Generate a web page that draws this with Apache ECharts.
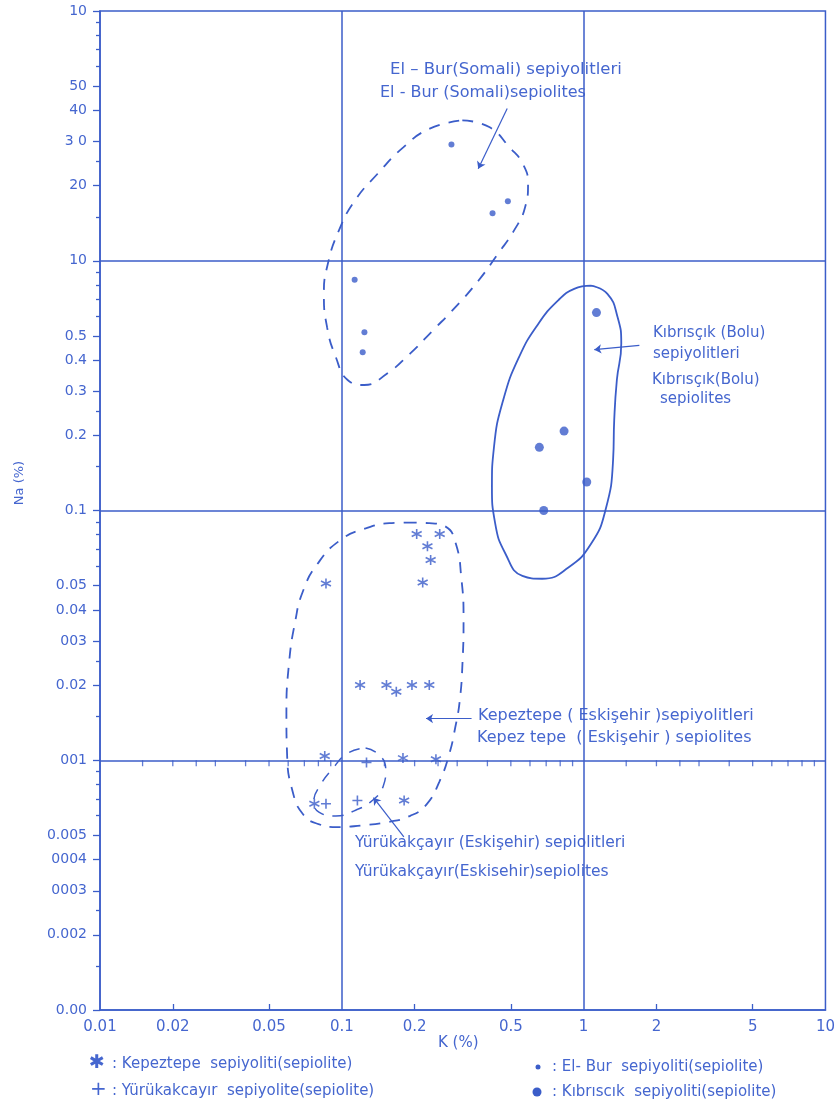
<!DOCTYPE html>
<html><head><meta charset="utf-8">
<script src="https://cdn.jsdelivr.net/npm/echarts@6/dist/echarts.min.js"></script>
<style>html,body{margin:0;padding:0;background:#fff}#c{width:838px;height:1110px}</style>
</head><body><div id="c"></div>
<script>
// ---- axis ticks / labels ----
const xTickValues = [0.01,0.02,0.05,0.1,0.2,0.5,1,2,5,10];
const xTickLabels = ['0.01','0.02','0.05','0.1','0.2','0.5','1','2','5','10'];
const xInnerTicks = [0.02,0.05,0.2,0.5,2,5];
const yTickValues = [10,5,4,3,2,1,0.5,0.4,0.3,0.2,0.1,0.05,0.04,0.03,0.02,0.01,0.005,0.004,0.003,0.002,0.001];
const yTickLabels = ['10','50','40','3 0','20','10','0.5','0.4','0.3','0.2','0.1','0.05','0.04','003','0.02','001','0.005','0004','0003','0.002','0.00'];
const yMinorTicks = [9,8,7,6,2.5,1.5, 0.9,0.8,0.7,0.6,0.25,0.15, 0.09,0.08,0.07,0.06,0.025,0.015, 0.009,0.008,0.007,0.006,0.0025,0.0015];
const k001LineTicks = [0.015,0.02,0.025,0.03,0.04,0.05,0.06,0.07,0.08,0.09, 0.15,0.2,0.25,0.3,0.4,0.5,0.6,0.7,0.8,0.9, 1.5,2,2.5,3,4,5,6,7,8,9];
const gridK = [0.1, 1];
const gridNa = [1, 0.1, 0.01];

// ---- data (K %, Na %) ----
const kepeztepeK  = [0.204,0.254,0.226,0.233,0.216,0.086,0.119,0.153,0.168,0.195,0.23,0.085,0.179,0.245,0.077,0.181];
const kepeztepeNa = [0.0805,0.0805,0.0719,0.0634,0.0515,0.051,0.02,0.02,0.0188,0.02,0.02,0.0104,0.0102,0.0101,0.0067,0.0069];
const yurukK  = [0.1265,0.086,0.116];
const yurukNa = [0.0098,0.0067,0.0069];
const elBurK  = [0.284,0.486,0.42,0.113,0.124,0.122];
const elBurNa = [2.92,1.73,1.55,0.84,0.517,0.43];
const kibrisK  = [1.13,0.83,0.656,1.03,0.684];
const kibrisNa = [0.62,0.208,0.179,0.13,0.1];

// ---- group envelopes [K, Na] ----
const elBurOutline = [[0.315,3.65],[0.407,3.43],[0.493,2.85],[0.56,2.445],[0.589,2.03],[0.573,1.64],[0.515,1.32],[0.4415,1.064],[0.367,0.832],[0.295,0.652],[0.238,0.526],[0.1915,0.425],[0.154,0.354],[0.1238,0.318],[0.1057,0.333],[0.0944,0.412],[0.0869,0.542],[0.0843,0.737],[0.0875,0.97],[0.0972,1.32],[0.1132,1.74],[0.1406,2.23],[0.18,2.85],[0.231,3.38]];
const kibrisOutline = [[1.069,0.795],[1.254,0.737],[1.382,0.594],[1.431,0.466],[1.372,0.333],[1.338,0.23],[1.324,0.16],[1.233,0.101],[1.075,0.0737],[0.865,0.0591],[0.674,0.0533],[0.558,0.0547],[0.475,0.0671],[0.4305,0.089],[0.4176,0.125],[0.426,0.18],[0.465,0.277],[0.541,0.412],[0.65,0.56],[0.783,0.693],[0.914,0.772]];
const kepezOutline = [[0.184,0.0895],[0.2295,0.089],[0.2687,0.0862],[0.296,0.0737],[0.312,0.0538],[0.3187,0.0369],[0.3155,0.0245],[0.3074,0.01734],[0.2943,0.01349],[0.2773,0.01048],[0.2533,0.00822],[0.2242,0.00666],[0.1918,0.00599],[0.1541,0.00565],[0.1199,0.00548],[0.0962,0.0054],[0.0796,0.00556],[0.069,0.00609],[0.0626,0.0075],[0.0594,0.01048],[0.059,0.0153],[0.0605,0.0245],[0.0641,0.0358],[0.069,0.0474],[0.0792,0.061],[0.0984,0.076],[0.1264,0.085],[0.1573,0.089]];
const yurukOutline = [[0.1254,0.01119],[0.1432,0.01048],[0.1519,0.00914],[0.1481,0.00784],[0.1337,0.0069],[0.114,0.00631],[0.0945,0.00598],[0.0804,0.0062],[0.0766,0.00684],[0.0817,0.00798],[0.0913,0.00922],[0.1059,0.01068]];

// ---- leader lines [from, to] in [K, Na] ----
const leaders = [
  [[0.483,4.07],[0.3666,2.335]],
  [[1.70,0.4585],[1.107,0.4407]],
  [[0.344,0.01468],[0.2229,0.01468]],
  [[0.1805,0.00493],[0.1352,0.00708]]
];

const INK = '#3b5dc9';
const TXT = '#4566cf';
const FONT = 'DejaVu Sans, sans-serif';
const L = Math.log10;
const pt = (k, n) => [L(k), L(n)];
const pairs = (ks, ns) => ks.map((k, i) => pt(k, ns[i]));
const closed = arr => arr.concat([arr[0]]).map(p => pt(p[0], p[1]));
function labelFor(values, labels, v) {
  for (let i = 0; i < values.length; i++) if (Math.abs(L(values[i]) - v) < 1e-6) return labels[i];
  return '';
}

const asterisk = 'path://M5 0L5 10M0.67 2.5L9.33 7.5M0.67 7.5L9.33 2.5';
const plus = 'path://M5 0L5 10M0 5L10 5';

function envelope(arr, dashed, w) {
  return {
    type: 'line', data: closed(arr), smooth: 0.5, symbol: 'none', silent: true, z: 2,
    lineStyle: { color: INK, width: w, type: dashed ? [11, 9] : 'solid', cap: 'butt' }
  };
}

function txt(text, x, y, size, extra) {
  return Object.assign({ type: 'text', x: x, y: y, silent: true,
    style: { text: text, fill: TXT, font: (size || 14) + 'px ' + FONT, align: 'left', verticalAlign: 'middle' } }, extra || {});
}

const chart = echarts.init(document.getElementById('c'), null, { renderer: 'canvas' });
chart.setOption({
  backgroundColor: '#ffffff',
  animation: false,
  grid: { left: 100, right: 6, top: 11, bottom: 100, show: true, borderColor: INK, borderWidth: 1.5 },
  xAxis: [{
    type: 'value', min: -2, max: 1, position: 'bottom',
    axisLine: { show: true, onZero: false, lineStyle: { color: INK, width: 1.5 } },
    axisTick: { show: true, inside: true, length: 6, customValues: xInnerTicks.map(v => L(v)), lineStyle: { color: INK, width: 1.3 } },
    axisLabel: { show: true, margin: 10, color: TXT, fontSize: 15, fontFamily: FONT,
      customValues: xTickValues.map(v => L(v)),
      formatter: v => labelFor(xTickValues, xTickLabels, v) },
    splitLine: { show: false }
  }],
  yAxis: [{
    type: 'value', min: -3, max: 1, position: 'left',
    axisLine: { show: true, onZero: false, lineStyle: { color: INK, width: 1.5 } },
    axisTick: { show: true, length: 7, customValues: yTickValues.map(v => L(v)), lineStyle: { color: INK, width: 1.3 } },
    axisLabel: { show: true, margin: 13, color: TXT, fontSize: 14, fontFamily: FONT,
      customValues: yTickValues.map(v => L(v)),
      formatter: v => labelFor(yTickValues, yTickLabels, v) },
    splitLine: { show: false }
  }, {
    type: 'value', min: -3, max: 1, position: 'left',
    axisLine: { show: false, onZero: false },
    axisTick: { show: true, length: 4, customValues: yMinorTicks.map(v => L(v)), lineStyle: { color: INK, width: 1.3 } },
    axisLabel: { show: false },
    splitLine: { show: false }
  }],
  series: [
    {
      name: 'Kepeztepe', type: 'scatter', data: pairs(kepeztepeK, kepeztepeNa), symbol: asterisk, symbolSize: 10, z: 5,
      itemStyle: { color: 'rgba(0,0,0,0)', borderColor: INK, borderWidth: 1.6 },
      markLine: {
        silent: true, symbol: 'none', label: { show: false },
        lineStyle: { color: INK, width: 1.5, type: 'solid' },
        data: gridK.map(v => ({ xAxis: L(v) })).concat(gridNa.map(v => ({ yAxis: L(v) })))
      }
    },
    {
      name: 'Yürükakçayır', type: 'scatter', data: pairs(yurukK, yurukNa), symbol: plus, symbolSize: 10, z: 5,
      itemStyle: { color: 'rgba(0,0,0,0)', borderColor: INK, borderWidth: 1.6 }
    },
    { name: 'El-Bur', type: 'scatter', data: pairs(elBurK, elBurNa), symbol: 'circle', symbolSize: 6, z: 5, itemStyle: { color: INK } },
    { name: 'Kıbrısçık', type: 'scatter', data: pairs(kibrisK, kibrisNa), symbol: 'circle', symbolSize: 9, z: 5, itemStyle: { color: INK } },
    envelope(elBurOutline, true, 1.8),
    envelope(kibrisOutline, false, 1.8),
    envelope(kepezOutline, true, 1.8),
    envelope(yurukOutline, true, 1.5),
    {
      type: 'lines', coordinateSystem: 'cartesian2d', silent: true, z: 4,
      symbol: ['none', 'arrow'], symbolSize: 7,
      lineStyle: { color: INK, width: 1.2, opacity: 1, curveness: 0 },
      data: leaders.map(s => ({ coords: [pt(s[0][0], s[0][1]), pt(s[1][0], s[1][1])] }))
    },
    {
      type: 'scatter', silent: true, z: 3, symbol: 'rect', symbolSize: [1.3, 6], symbolOffset: [0, 3],
      itemStyle: { color: INK },
      data: k001LineTicks.map(k => pt(k, 0.01))
    }
  ],
  graphic: [
    txt('El – Bur(Somali) sepiyolitleri', 390, 70, 16.5),
    txt('El - Bur (Somali)sepiolites', 380, 93, 16),
    txt('Kıbrısçık (Bolu)', 653, 333, 15),
    txt('sepiyolitleri', 653, 354, 15),
    txt('Kıbrısçık(Bolu)', 652, 380, 15),
    txt('sepiolites', 660, 399, 15),
    txt('Kepeztepe ( Eskişehir )sepiyolitleri', 478, 716, 16),
    txt('Kepez tepe  ( Eskişehir ) sepiolites', 477, 738, 16),
    txt('Yürükakçayır (Eskişehir) sepiolitleri', 355, 843, 15.5),
    txt('Yürükakçayır(Eskisehir)sepiolites', 355, 872, 15.5),
    txt('Na (%)', 20, 483, 13, { rotation: Math.PI / 2, style: { text: 'Na (%)', fill: TXT, font: '13px ' + FONT, align: 'center', verticalAlign: 'middle' } }),
    txt('K (%)', 438, 1043, 15),
    txt('✱', 89, 1063, 19),
    txt(': Kepeztepe  sepiyoliti(sepiolite)', 112, 1064, 15),
    txt('+', 90, 1090, 20),
    txt(': Yürükakcayır  sepiyolite(sepiolite)', 112, 1091, 15),
    { type: 'circle', silent: true, shape: { cx: 538, cy: 1067, r: 2.5 }, style: { fill: INK } },
    txt(': El- Bur  sepiyoliti(sepiolite)', 552, 1067, 15),
    { type: 'circle', silent: true, shape: { cx: 537, cy: 1092, r: 4.5 }, style: { fill: INK } },
    txt(': Kıbrıscık  sepiyoliti(sepiolite)', 552, 1092, 15)
  ]
});
</script>
</body></html>
